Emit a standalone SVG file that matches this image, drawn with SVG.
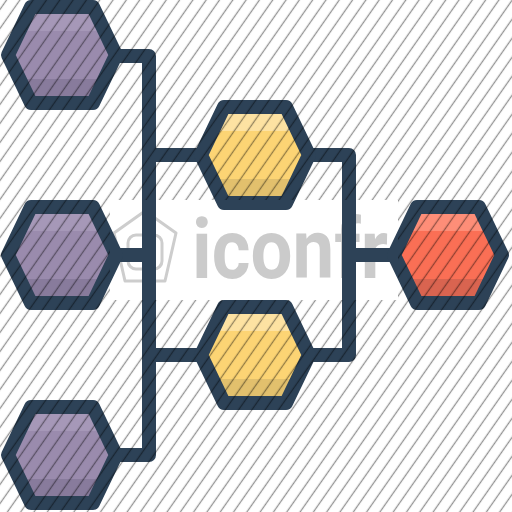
<svg xmlns="http://www.w3.org/2000/svg" width="512" height="512" viewBox="0 0 512 512">
<defs>
<style>
.line{fill:none;stroke:#2d4257;stroke-width:14;stroke-linejoin:round}
.pm{fill:#9a8bad}.pt{fill:#a698b8}.pb{fill:#887b9c}
.ym{fill:#fcd474}.yt{fill:#fde2a2}.yb{fill:#e2c06d}
.rm{fill:#fa6f55}.rt{fill:#fe8e78}.rb{fill:#d96450}
.wm{fill:#cbcbcb;font-family:Roboto,"Liberation Sans",sans-serif;font-weight:700;font-size:84px}
.wml{fill:none;stroke:#cdcdcd;stroke-width:3;stroke-linejoin:round}
</style>
<polygon id="hx" points="-54,0 -31,-48 31,-48 54,0 31,48 -31,48"/>
<polygon id="bt" points="-31,-48 31,-48 42.5,-24 -42.5,-24"/>
<polygon id="bb" points="-42.5,24 42.5,24 31,48 -31,48"/>
<pattern id="hatch" width="10.9" height="20" patternUnits="userSpaceOnUse" patternTransform="rotate(35)">
<line x1="5.4" y1="-1" x2="5.4" y2="21" stroke="#000" stroke-opacity="0.42" stroke-width="1.3"/>
</pattern>
<mask id="hm">
<rect width="512" height="512" fill="#fff"/>
<rect x="110" y="200" width="288" height="100" fill="#000"/>
</mask>
<clipPath id="band"><rect x="110" y="200" width="288" height="100"/></clipPath>
</defs>
<rect width="512" height="512" fill="#fff"/>
<g id="watermark" clip-path="url(#band)">
<polygon class="wml" points="145,211 176,233 165,281 125,281 114,233"/>
<rect class="wml" x="128" y="235" width="34" height="34" rx="8"/>
<text class="wm" x="192" y="278" textLength="196" lengthAdjust="spacingAndGlyphs">iconfr</text>
</g>
<g id="connectors">
<path class="line" d="M116,56 H149 V455 H116"/>
<path class="line" d="M116,255 H149"/>
<path class="line" d="M149,155 H202 M149,355 H202"/>
<path class="line" d="M308,155 H349 V355 H308"/>
<path class="line" d="M349,255 H395"/>
</g>
<g id="hex-purple-top" transform="translate(62,55)">
<use href="#hx" class="pm"/><use href="#bt" class="pt"/><use href="#bb" class="pb"/><use href="#hx" class="line"/>
</g>
<g id="hex-purple-mid" transform="translate(62,255)">
<use href="#hx" class="pm"/><use href="#bt" class="pt"/><use href="#bb" class="pb"/><use href="#hx" class="line"/>
</g>
<g id="hex-purple-bot" transform="translate(62,455)">
<use href="#hx" class="pm"/><use href="#bt" class="pt"/><use href="#bb" class="pb"/><use href="#hx" class="line"/>
</g>
<g id="hex-yellow-top" transform="translate(255,155)">
<use href="#hx" class="ym"/><use href="#bt" class="yt"/><use href="#bb" class="yb"/><use href="#hx" class="line"/>
</g>
<g id="hex-yellow-bot" transform="translate(255,355)">
<use href="#hx" class="ym"/><use href="#bt" class="yt"/><use href="#bb" class="yb"/><use href="#hx" class="line"/>
</g>
<g id="hex-red" transform="translate(448,255)">
<use href="#hx" class="rm"/><use href="#bt" class="rt"/><use href="#bb" class="rb"/><use href="#hx" class="line"/>
</g>
<rect id="hatching" width="512" height="512" fill="url(#hatch)" mask="url(#hm)"/>
</svg>
